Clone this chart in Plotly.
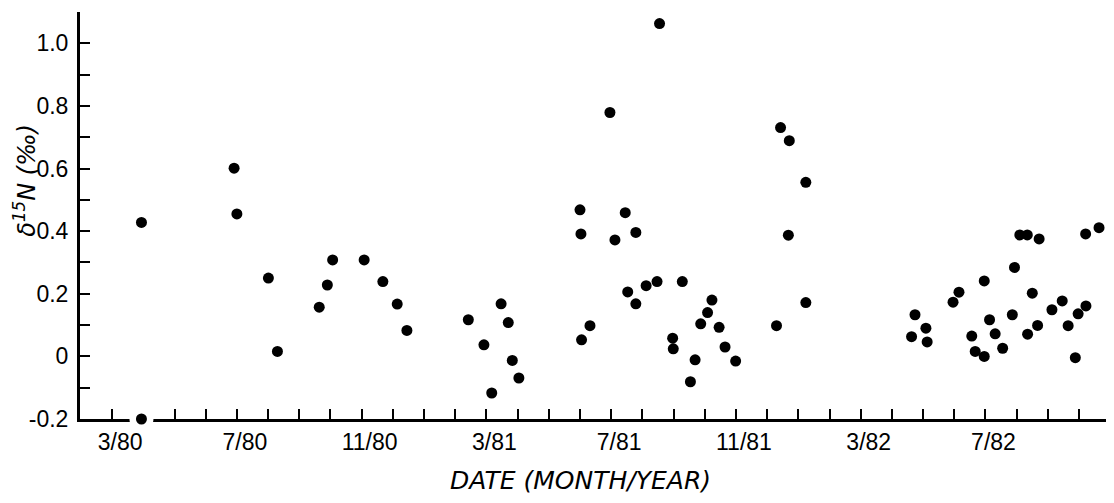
import plotly.graph_objects as go

# Sampling time in months since January 1980 (2 = March 1980, 6 = July 1980, ...)
sample_month = [
    2.94, 2.94, 5.91, 6.00, 7.01, 7.30, 8.64, 8.90, 9.07, 10.08,
    10.68, 11.14, 11.45, 13.42, 13.92, 14.17, 14.47, 14.70, 14.83, 15.04,
    17.00, 17.03, 17.05, 17.32, 17.96, 18.12, 18.45, 18.79, 18.53, 18.79,
    19.12, 19.47, 19.55, 20.28, 19.97, 19.99, 20.54, 20.69, 20.87, 21.09,
    21.23, 21.46, 21.65, 21.99, 23.30, 23.43, 23.71, 23.68, 24.24, 24.24,
    27.63, 27.74, 28.09, 28.13, 28.96, 29.15, 29.56, 29.67, 29.96, 29.96,
    30.13, 30.31, 30.55, 30.86, 30.93, 31.10, 31.34, 31.35, 31.50, 31.67,
    31.72, 32.13, 32.46, 32.65, 32.88, 32.97, 33.22, 33.21, 33.64,
]

# delta 15N values (per mil)
delta15N = [
    0.428, -0.200, 0.601, 0.455, 0.250, 0.016, 0.157, 0.228, 0.308, 0.308,
    0.239, 0.167, 0.083, 0.117, 0.037, -0.117, 0.168, 0.108, -0.013, -0.069,
    0.468, 0.391, 0.053, 0.098, 0.779, 0.372, 0.459, 0.396, 0.206, 0.168,
    0.226, 0.239, 1.063, 0.239, 0.058, 0.024, -0.081, -0.011, 0.104, 0.140,
    0.180, 0.093, 0.030, -0.015, 0.098, 0.731, 0.689, 0.387, 0.556, 0.172,
    0.063, 0.133, 0.090, 0.046, 0.173, 0.205, 0.065, 0.016, 0.241, 0.000,
    0.117, 0.072, 0.026, 0.133, 0.284, 0.388, 0.388, 0.071, 0.202, 0.099,
    0.375, 0.149, 0.177, 0.098, -0.004, 0.136, 0.161, 0.391, 0.411,
]

# Axis ticks
x_tick_vals = [2, 6, 10, 14, 18, 22, 26, 30]
x_tick_text = ["3/80", "7/80", "11/80", "3/81", "7/81", "11/81", "3/82", "7/82"]
x_minor_vals = [m for m in range(3, 34) if m not in x_tick_vals]

y_tick_vals = [-0.2, 0.0, 0.2, 0.4, 0.6, 0.8, 1.0]
y_tick_text = ["-0.2", "0", "0.2", "0.4", "0.6", "0.8", "1.0"]
y_minor_vals = [-0.1, 0.1, 0.3, 0.5, 0.7, 0.9, 1.1]

x_range = [0.97, 34.12]
y_range = [-0.2, 1.1]

x_title = "DATE (MONTH/YEAR)"
y_title = "<i>δ<sup>15</sup>N (‰)</i>"

FONT = "Liberation Sans, Arial, sans-serif"
TITLE_FONT = "DejaVu Sans, Liberation Sans, sans-serif"

# points sitting on the bottom axis get a white halo (axis line interrupted)
halo_x = [m for m, v in zip(sample_month, delta15N) if v <= y_range[0]]
halo_y = [v for v in delta15N if v <= y_range[0]]

fig = go.Figure()
fig.add_trace(go.Scatter(
    x=halo_x, y=halo_y, mode="markers",
    marker=dict(size=24, color="white", line=dict(width=0)),
    cliponaxis=False, hoverinfo="skip", showlegend=False,
))
fig.add_trace(go.Scatter(
    x=sample_month, y=delta15N, mode="markers",
    marker=dict(size=11, color="black", line=dict(width=0)),
    cliponaxis=False, showlegend=False,
))

axis_common = dict(
    showgrid=False, zeroline=False, showline=True, linecolor="black",
    linewidth=3, ticks="inside", ticklen=10, tickwidth=2, tickcolor="black",
    layer="below traces",
    tickfont=dict(family=FONT, size=23, color="black"),
)

fig.update_xaxes(
    range=x_range, tickmode="array", tickvals=x_tick_vals, ticktext=x_tick_text,
    minor=dict(tickmode="array", tickvals=x_minor_vals, ticks="inside",
               ticklen=10, tickwidth=2, tickcolor="black", showgrid=False),
    ticklabelshift=8, ticklabelstandoff=0,
    **axis_common,
)
fig.update_yaxes(
    range=y_range, tickmode="array", tickvals=y_tick_vals, ticktext=y_tick_text,
    minor=dict(tickmode="array", tickvals=y_minor_vals, ticks="inside",
               ticklen=10, tickwidth=2, tickcolor="black", showgrid=False),
    ticklabelstandoff=4,
    **axis_common,
)

fig.add_annotation(
    text=f"<i>{x_title}</i>", xref="paper", yref="paper",
    x=0.4836, y=-0.15, xanchor="center", yanchor="middle", showarrow=False,
    font=dict(family=TITLE_FONT, size=25, color="black"),
)
fig.add_annotation(
    text=y_title, xref="paper", yref="paper", textangle=-90,
    x=-0.0535, y=0.587, xanchor="center", yanchor="middle", showarrow=False,
    font=dict(family=TITLE_FONT, size=24, color="black"),
)

# the page places the figure 8 px from the window's top-left corner
fig.update_layout(
    width=1106, height=495,
    margin=dict(l=72, r=0, t=4, b=84),
    paper_bgcolor="white", plot_bgcolor="white",
    showlegend=False,
)

fig.write_html("out.html")
